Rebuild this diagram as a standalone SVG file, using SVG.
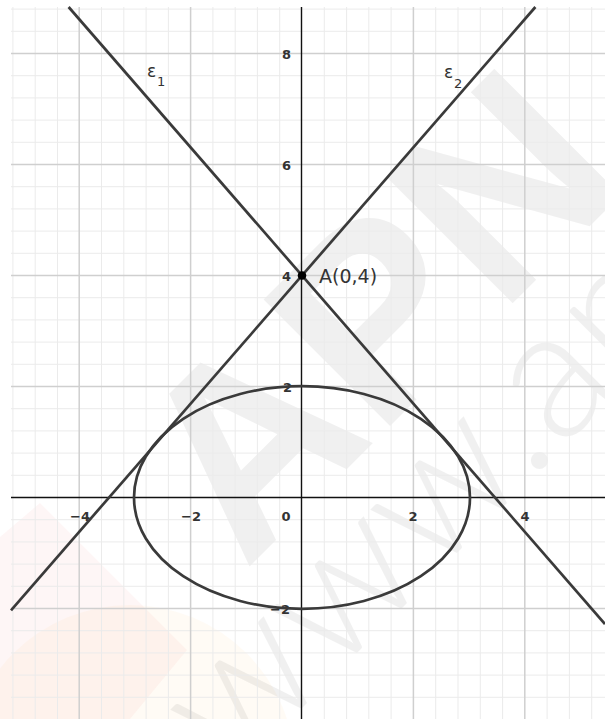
<svg xmlns="http://www.w3.org/2000/svg" width="605" height="719" viewBox="0 0 605 719">
<style>
.minor{stroke:#ebebeb;stroke-width:1}
.major{stroke:#cfcfcf;stroke-width:1.5}
.axis{stroke:#111;stroke-width:1.4}
.curve{fill:none;stroke:#3a3a3a;stroke-width:2.7}
.tick{font-family:"DejaVu Sans",sans-serif;font-size:13px;font-weight:bold;fill:#333}
.lbl{font-family:"DejaVu Sans",sans-serif;fill:#333}
.wm{font-family:"Liberation Sans",sans-serif;fill:#000;fill-opacity:0.06}
.wm2{font-family:Lato,"Open Sans",sans-serif;font-weight:300;fill:#000;fill-opacity:0.06}
</style>
<rect x="0" y="0" width="605" height="719" fill="#fff"/>
<g id="watermark">
<polygon points="40,503 187,650 130,719 0,719 0,537" fill="#e53935" fill-opacity="0.045"/>
<circle cx="130" cy="770" r="165" fill="#ffa000" fill-opacity="0.04"/>
<text class="wm" transform="translate(245,571) rotate(-45)" font-size="260" font-weight="bold">APN</text>
<text class="wm2" transform="translate(232,778) rotate(-45)" font-size="185">www.apn.gr</text>
</g>
<g id="grid">
<g class="minor">
<line x1="12.9" y1="7" x2="12.9" y2="719"/><line x1="35.2" y1="7" x2="35.2" y2="719"/><line x1="57.5" y1="7" x2="57.5" y2="719"/><line x1="101.5" y1="7" x2="101.5" y2="719"/><line x1="123.8" y1="7" x2="123.8" y2="719"/><line x1="146.1" y1="7" x2="146.1" y2="719"/><line x1="168.4" y1="7" x2="168.4" y2="719"/><line x1="212.9" y1="7" x2="212.9" y2="719"/><line x1="235.2" y1="7" x2="235.2" y2="719"/><line x1="257.4" y1="7" x2="257.4" y2="719"/><line x1="279.7" y1="7" x2="279.7" y2="719"/><line x1="324.3" y1="7" x2="324.3" y2="719"/><line x1="346.6" y1="7" x2="346.6" y2="719"/><line x1="368.8" y1="7" x2="368.8" y2="719"/><line x1="391.1" y1="7" x2="391.1" y2="719"/><line x1="435.7" y1="7" x2="435.7" y2="719"/><line x1="458" y1="7" x2="458" y2="719"/><line x1="480.3" y1="7" x2="480.3" y2="719"/><line x1="502.6" y1="7" x2="502.6" y2="719"/><line x1="547.1" y1="7" x2="547.1" y2="719"/><line x1="569.4" y1="7" x2="569.4" y2="719"/><line x1="591.7" y1="7" x2="591.7" y2="719"/>
<line x1="11" y1="9.1" x2="605" y2="9.1"/><line x1="11" y1="31.3" x2="605" y2="31.3"/><line x1="11" y1="75.7" x2="605" y2="75.7"/><line x1="11" y1="97.9" x2="605" y2="97.9"/><line x1="11" y1="120.1" x2="605" y2="120.1"/><line x1="11" y1="142.3" x2="605" y2="142.3"/><line x1="11" y1="186.7" x2="605" y2="186.7"/><line x1="11" y1="208.9" x2="605" y2="208.9"/><line x1="11" y1="231.1" x2="605" y2="231.1"/><line x1="11" y1="253.3" x2="605" y2="253.3"/><line x1="11" y1="297.7" x2="605" y2="297.7"/><line x1="11" y1="319.9" x2="605" y2="319.9"/><line x1="11" y1="342.1" x2="605" y2="342.1"/><line x1="11" y1="364.3" x2="605" y2="364.3"/><line x1="11" y1="408.7" x2="605" y2="408.7"/><line x1="11" y1="430.9" x2="605" y2="430.9"/><line x1="11" y1="453.1" x2="605" y2="453.1"/><line x1="11" y1="475.3" x2="605" y2="475.3"/><line x1="11" y1="519.7" x2="605" y2="519.7"/><line x1="11" y1="541.9" x2="605" y2="541.9"/><line x1="11" y1="564.1" x2="605" y2="564.1"/><line x1="11" y1="586.3" x2="605" y2="586.3"/><line x1="11" y1="630.7" x2="605" y2="630.7"/><line x1="11" y1="652.9" x2="605" y2="652.9"/><line x1="11" y1="675.1" x2="605" y2="675.1"/><line x1="11" y1="697.3" x2="605" y2="697.3"/>
</g>
<g class="major">
<line x1="79.2" y1="7" x2="79.2" y2="719"/><line x1="190.6" y1="7" x2="190.6" y2="719"/><line x1="413.4" y1="7" x2="413.4" y2="719"/><line x1="524.8" y1="7" x2="524.8" y2="719"/>
<line x1="11" y1="53.5" x2="605" y2="53.5"/><line x1="11" y1="164.5" x2="605" y2="164.5"/><line x1="11" y1="275.5" x2="605" y2="275.5"/><line x1="11" y1="386.5" x2="605" y2="386.5"/><line x1="11" y1="608.5" x2="605" y2="608.5"/>
</g>
</g>
<g id="axes">
<line class="axis" x1="11" y1="497.5" x2="605" y2="497.5"/>
<line class="axis" x1="301.5" y1="7" x2="301.5" y2="719"/>
</g>
<g id="tick-labels" class="tick">
<text x="80" y="521" text-anchor="middle">−4</text>
<text x="191" y="521" text-anchor="middle">−2</text>
<text x="286" y="521" text-anchor="middle">0</text>
<text x="413" y="521" text-anchor="middle">2</text>
<text x="525" y="521" text-anchor="middle">4</text>
<text x="291" y="59" text-anchor="end">8</text>
<text x="291" y="170" text-anchor="end">6</text>
<text x="291" y="281" text-anchor="end">4</text>
<text x="292" y="392" text-anchor="end">2</text>
<text x="290" y="614" text-anchor="end">−2</text>
<text x="290" y="729" text-anchor="end">−4</text>
</g>
<g id="ellipse">
<ellipse class="curve" cx="302" cy="497.5" rx="168" ry="111.3"/>
</g>
<g id="connectors">
<g id="e1">
<line class="curve" x1="68.6" y1="7" x2="605" y2="624.1"/>
<text class="lbl" x="147" y="77" font-size="17">ε</text>
<text class="lbl" x="157" y="86" font-size="13">1</text>
</g>
<g id="e2">
<line class="curve" x1="11" y1="610.3" x2="535.4" y2="7"/>
<text class="lbl" x="444" y="78" font-size="17">ε</text>
<text class="lbl" x="454" y="88" font-size="13">2</text>
</g>
</g>
<g id="pointA">
<circle cx="302" cy="275.5" r="4.3" fill="#000"/>
<text class="lbl" x="319" y="283" font-size="19">A(0,4)</text>
</g>
</svg>
